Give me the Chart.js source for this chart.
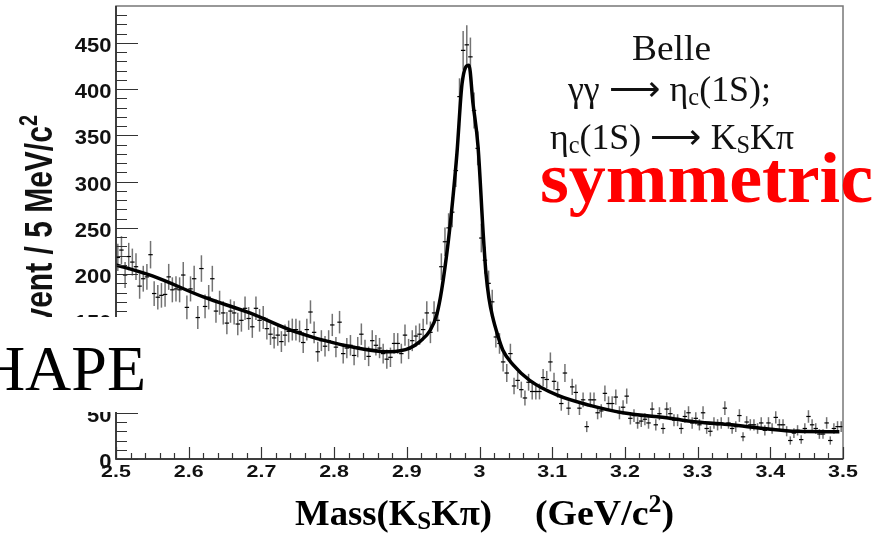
<!DOCTYPE html>
<html>
<head>
<meta charset="utf-8">
<script src="https://cdn.jsdelivr.net/npm/chart.js@4.4.0/dist/chart.umd.min.js"></script>
<style>
  html, body { margin: 0; padding: 0; background: #fff; }
  canvas { display: block; }
</style>
</head>
<body>
<canvas id="chart" width="889" height="535"></canvas>
<script>
// histogram: 200 bins of 5 MeV/c2 between 2.5 and 3.5 GeV/c2
var binLow = 2.5;
var binWidth = 0.005;
var counts = [
  218, 226, 199, 219, 213, 208, 187, 195, 197, 221, 179, 175, 177, 178, 197, 183, 184, 183, 199, 164,
  184, 195, 153, 206, 165, 175, 195, 160, 169, 158, 147, 160, 158, 146, 150, 163, 152, 143, 163, 150,
  153, 141, 135, 131, 134, 127, 134, 138,
  140, 140, 138, 126, 140, 159, 137, 116, 128, 122, 128, 145, 121, 148, 114, 120, 123, 112, 121, 135,
  118, 111, 128, 123, 120, 114, 108, 110, 125, 125, 114, 134, 119, 128, 133, 135, 140, 158, 137, 158,
  150,
  208, 235, 250, 267, 312, 392, 442, 448, 435, 377, 336, 239, 215, 190, 170, 132, 125,
  105, 93, 114, 79, 85, 75, 66, 83, 73, 73, 73, 88, 86, 105, 84, 75, 60, 93, 55, 78,
  72, 55, 64, 35, 64, 64, 50, 52, 71, 60, 60, 67, 50, 56, 68, 44, 47, 39, 41, 43,
  39, 54, 37, 49, 33, 54,
  49, 42, 42, 33, 46, 50, 39, 44, 37, 50, 33, 30, 39, 37, 39, 55, 39, 33, 35, 47,
  24, 40, 37, 37, 33, 39, 31, 39, 33, 45, 37, 37, 30, 20, 28, 31, 21, 33, 46, 37,
  33, 27, 27, 39, 20, 33, 35, 35
];

// fitted curve
var fitMass = [2.5, 2.55, 2.621, 2.684, 2.745, 2.808, 2.877, 2.891, 2.904, 2.918, 2.932, 2.9415, 2.948,
  2.957, 2.9635, 2.969, 2.976, 2.9855, 2.991, 2.998, 3.005, 3.009, 3.013, 3.018, 3.025, 3.032, 3.046,
  3.069, 3.107, 3.152, 3.197, 3.262, 3.299, 3.346, 3.391, 3.437, 3.495];
var fitValue = [210, 198, 175, 158, 138, 124, 116, 117, 120, 127, 139, 157, 183,
  235, 283, 331, 406, 426, 385, 338, 245, 200, 174, 154, 134, 118, 102,
  85, 69, 58, 50, 44, 40, 37, 33, 30, 29.5];

// axis ticks
var xTickValues = [2.5, 2.6, 2.7, 2.8, 2.9, 3.0, 3.1, 3.2, 3.3, 3.4, 3.5];
var xTickLabels = ['2.5', '2.6', '2.7', '2.8', '2.9', '3', '3.1', '3.2', '3.3', '3.4', '3.5'];
var yTickValues = [0, 50, 100, 150, 200, 250, 300, 350, 400, 450];
var yTickLabels = ['0', '50', '100', '150', '200', '250', '300', '350', '400', '450'];
var xMinorStep = 0.02;
var yMinorStep = 10;

var SANS = '"Liberation Sans", Arial, sans-serif';
var SERIF = '"Liberation Serif", "Times New Roman", serif';
var ARROW = '\u27f6';

// draw text made of pieces (0 normal, 1 subscript, 2 superscript), squeezed to fit x0..x1
function drawRich(ctx, parts, x0, x1, baseline, size, family, weight, color) {
    ctx.save();
    ctx.fillStyle = color;
    ctx.textAlign = 'left';
    ctx.textBaseline = 'alphabetic';
    var widths = [];
    var total = 0;
    parts.forEach(function (p) {
        var s = p[1] ? size * 0.68 : size;
        ctx.font = weight + ' ' + s + 'px ' + family;
        var w = ctx.measureText(p[0]).width;
        widths.push(w);
        total += w;
    });
    ctx.translate(x0, baseline);
    ctx.scale((x1 - x0) / total, 1);
    var x = 0;
    parts.forEach(function (p, i) {
        var s = p[1] ? size * 0.68 : size;
        var dy = p[1] == 1 ? size * 0.1 : (p[1] == 2 ? -size * 0.36 : 0);
        ctx.font = weight + ' ' + s + 'px ' + family;
        ctx.fillText(p[0], x, dy);
        x += widths[i];
    });
    ctx.restore();
}

var errorBars = {
    id: 'errorBars',
    beforeDatasetsDraw: function (chart) {
        var meta = chart.getDatasetMeta(1);
        var ys = chart.scales.y;
        var ctx = chart.ctx;
        ctx.save();
        ctx.strokeStyle = 'rgba(80,80,80,0.8)';
        ctx.lineWidth = 1.5;
        meta.data.forEach(function (pt, i) {
            var err = Math.sqrt(counts[i]);
            ctx.beginPath();
            ctx.moveTo(pt.x, ys.getPixelForValue(counts[i] - err));
            ctx.lineTo(pt.x, ys.getPixelForValue(counts[i] + err));
            ctx.stroke();
        });
        ctx.restore();
    }
};

var rootFrame = {
    id: 'rootFrame',
    afterDraw: function (chart) {
        var ctx = chart.ctx;
        var a = chart.chartArea;
        var xs = chart.scales.x, ys = chart.scales.y;

        // frame
        ctx.save();
        ctx.strokeStyle = '#777';
        ctx.lineWidth = 1.5;
        ctx.strokeRect(a.left, a.top, a.right - a.left, a.bottom - a.top);
        ctx.strokeStyle = '#222';
        ctx.beginPath();
        ctx.moveTo(a.left, a.top);
        ctx.lineTo(a.left, a.bottom);
        ctx.lineTo(a.right, a.bottom);
        ctx.stroke();

        // inward ticks
        ctx.lineWidth = 1.2;
        ctx.strokeStyle = '#333';
        ctx.beginPath();
        for (var v = 0; v < ys.max - 1; v += yMinorStep) {
            var py = Math.round(ys.getPixelForValue(v)) + 0.5;
            var len = (v % 50 === 0) ? 22 : 11;
            ctx.moveTo(a.left, py);
            ctx.lineTo(a.left + len, py);
        }
        for (var k = 0; k <= 50; k++) {
            var xv = xs.min + k * xMinorStep;
            var px = Math.round(xs.getPixelForValue(xv)) + 0.5;
            var l = (k % 5 === 0) ? 12 : 6;
            ctx.moveTo(px, a.bottom);
            ctx.lineTo(px, a.bottom - l);
        }
        ctx.stroke();

        // tick labels
        ctx.fillStyle = '#111';
        ctx.textBaseline = 'alphabetic';
        ctx.textAlign = 'right';
        ctx.font = 'bold 20px ' + SANS;
        yTickValues.forEach(function (v, i) {
            ctx.save();
            ctx.translate(a.left - 4.5, ys.getPixelForValue(v) + 9);
            ctx.scale(1.1, 1);
            ctx.fillText(yTickLabels[i], 0, 0);
            ctx.restore();
        });
        ctx.textAlign = 'center';
        ctx.font = 'bold 17px ' + SANS;
        xTickValues.forEach(function (v, i) {
            ctx.save();
            ctx.translate(xs.getPixelForValue(v), 477);
            ctx.scale(1.26, 1);
            ctx.fillText(xTickLabels[i], 0, 0);
            ctx.restore();
        });

        // y title, rotated
        ctx.save();
        ctx.translate(52, 115);
        ctx.scale(1.28, 1);
        ctx.rotate(-Math.PI / 2);
        ctx.font = 'bold 30px ' + SANS;
        var t1 = 'Event / 5 MeV/c';
        var w1 = ctx.measureText(t1).width;
        ctx.font = 'bold 20px ' + SANS;
        var w2 = ctx.measureText('2').width;
        ctx.textAlign = 'left';
        ctx.font = 'bold 30px ' + SANS;
        ctx.fillText(t1, -(w1 + w2), 0);
        ctx.font = 'bold 20px ' + SANS;
        ctx.fillText('2', -w2, -12);
        ctx.restore();

        // x title
        drawRich(ctx, [['Mass(K', 0], ['S', 1], ['K\u03c0)', 0]], 295, 492, 525, 36, SERIF, 'bold', '#000');
        drawRich(ctx, [['(GeV/c', 0], ['2', 2], [')', 0]], 535, 674, 525, 36, SERIF, 'bold', '#000');

        // annotations
        drawRich(ctx, [['Belle', 0]], 632, 711, 60, 36, SERIF, 'normal', '#111');
        drawRich(ctx, [['\u03b3\u03b3 ' + ARROW + ' \u03b7', 0], ['c', 1], ['(1S);', 0]], 568, 771, 101, 36, SERIF, 'normal', '#111');
        drawRich(ctx, [['\u03b7', 0], ['c', 1], ['(1S) ' + ARROW + ' K', 0], ['S', 1], ['K\u03c0', 0]], 550, 794, 149, 36, SERIF, 'normal', '#111');
        drawRich(ctx, [['symmetric', 0]], 540, 873, 202, 72, SERIF, 'bold', '#ff0000');

        // pasted label box
        ctx.fillStyle = '#fff';
        ctx.fillRect(0, 317, 166, 95);
        ctx.fillStyle = '#000';
        ctx.textAlign = 'right';
        ctx.font = '64px ' + SERIF;
        ctx.fillText('SHAPE', 146, 390);
        ctx.restore();
    }
};

var points = counts.map(function (n, i) {
    return { x: binLow + binWidth * (i + 0.5), y: n };
});
var fitPoints = fitMass.map(function (m, i) {
    return { x: m, y: fitValue[i] };
});

new Chart(document.getElementById('chart').getContext('2d'), {
    type: 'scatter',
    data: {
        datasets: [{
            type: 'line',
            data: fitPoints,
            borderColor: '#000',
            borderWidth: 3.5,
            pointRadius: 0,
            fill: false,
            cubicInterpolationMode: 'monotone',
            order: 0
        }, {
            data: points,
            showLine: false,
            pointStyle: 'line',
            pointRadius: 2.2,
            borderColor: '#000',
            borderWidth: 1.2,
            order: 1
        }]
    },
    options: {
        responsive: false,
        animation: false,
        devicePixelRatio: 1,
        layout: { padding: { left: 116, right: 46, top: 6, bottom: 76 } },
        plugins: { legend: { display: false }, tooltip: { enabled: false } },
        scales: {
            x: { type: 'linear', min: 2.5, max: 3.5, display: false },
            y: { type: 'linear', min: 0, max: 490, display: false }
        }
    },
    plugins: [errorBars, rootFrame]
});
</script>
</body>
</html>
